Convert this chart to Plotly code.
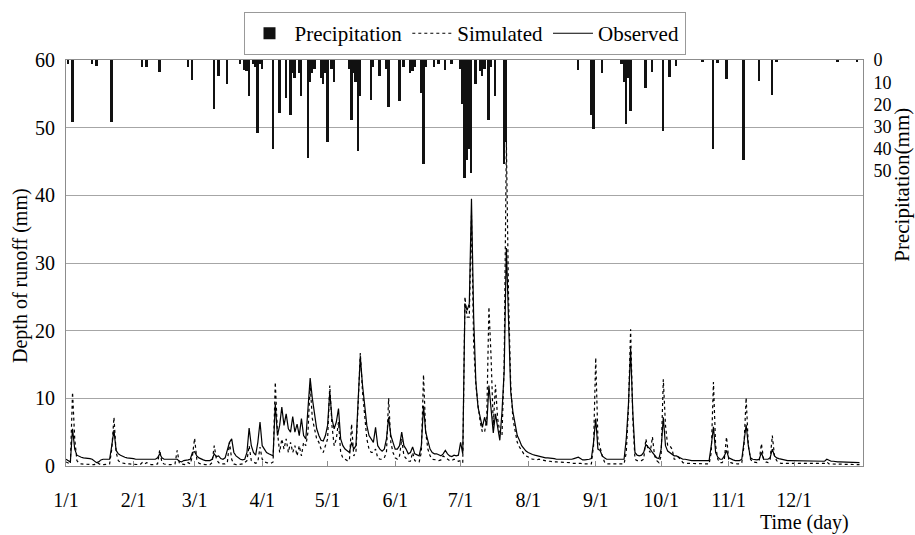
import plotly.graph_objects as go

# ---------------- data ----------------
month_start_day = [0, 31, 59, 90, 120, 151, 181, 212, 243, 273, 304, 334]
month_labels = ["1/1", "2/1", "3/1", "4/1", "5/1", "6/1", "7/1", "8/1", "9/1", "10/1", "11/1", "12/1"]

# daily precipitation (day index from 1 Jan = 0, mm)
rain_day = [1, 3, 12, 14, 21, 35, 37, 43, 56, 58, 68, 70, 74, 80, 82, 83, 84, 86, 87, 88,
            89, 90, 95, 98, 101, 103, 104, 105, 107, 108, 111, 112, 113, 114, 117, 118, 119, 120, 122, 123,
            130, 131, 132, 133, 134, 135, 140, 141, 144, 147, 148, 153, 155, 158, 159, 160, 163, 164, 165, 169,
            171, 174, 177, 181, 182, 183, 184, 185, 186, 188, 190, 191, 192, 194, 195, 197, 201, 202, 235, 241,
            242, 246, 255, 256, 257, 258, 259, 266, 269, 274, 277, 280, 292, 297, 299, 303, 311, 318, 324, 326,
            354, 363]
rain_mm = [2, 28, 2, 2.5, 28, 3, 3, 5.5, 3, 9, 22, 7, 11, 2, 4.5, 5, 16, 2, 3, 33,
           2, 4, 40, 24, 17, 25, 6, 8, 6, 16, 44, 10, 6, 4, 8, 11, 6, 37, 4, 10,
           4, 27, 6, 10, 41, 16, 18, 3, 7, 4, 21, 18.5, 3, 6, 5, 3, 15, 47, 3, 3,
           2, 4.5, 2, 4, 20, 53, 45, 40, 51, 10.7, 5, 7, 4, 27, 3, 16, 47, 37, 4.5, 25,
           31, 5.7, 2, 10, 29, 8, 23, 12.6, 5.4, 32, 7.7, 2.7, 1, 40, 1.5, 8.6, 45, 9.5, 15.8, 1,
           1, 1]

# observed daily runoff depth (mm)
obs_jan = [1.0, 0.8, 0.6, 5.5, 2.5, 1.6, 1.4, 1.3, 1.2, 1.2, 1.1, 1.1, 1.0, 0.8, 0.5, 0.6, 0.9, 1.0, 1.0, 1.0,
           1.0, 3.0, 5.3, 2.3, 1.8, 1.6, 1.4, 1.3, 1.2, 1.2, 1.1]
obs_feb = [1.1, 1.0, 1.0, 1.0, 1.0, 1.1, 1.1, 1.0, 1.0, 1.0, 1.0, 1.2, 1.8, 1.2, 1.0, 1.0, 1.0, 1.0, 1.0, 1.0,
           1.0, 0.7, 0.6, 0.8, 0.8, 0.9, 1.0, 2.0]
obs_mar = [2.1, 1.5, 1.2, 1.0, 0.9, 0.8, 0.8, 0.8, 1.0, 1.8, 1.4, 1.5, 1.1, 1.0, 1.2, 2.5, 3.5, 4.0, 2.0, 1.5,
           1.2, 1.0, 0.9, 1.0, 2.0, 5.6, 3.0, 2.0, 1.6, 3.5, 6.5]
obs_apr = [3.0, 2.5, 2.0, 1.8, 1.6, 1.5, 9.2, 4.5, 6.0, 8.7, 6.0, 7.7, 5.5, 5.0, 7.3, 5.0, 6.2, 4.5, 7.0, 4.5,
           4.0, 8.0, 13.0, 10.0, 7.5, 5.5, 4.5, 3.8, 3.7, 4.5]
obs_may = [6.0, 11.0, 7.0, 5.5, 6.5, 8.5, 4.0, 3.0, 2.5, 2.2, 2.0, 3.5, 2.5, 3.0, 10.0, 16.2, 12.0, 9.0, 6.0, 4.5,
           4.0, 3.5, 5.7, 3.0, 2.5, 2.2, 2.5, 4.0, 7.2, 4.5, 3.5]
obs_jun = [2.5, 2.5, 3.0, 5.0, 3.0, 2.5, 1.8, 2.0, 2.8, 1.8, 1.6, 1.5, 3.0, 8.9, 5.0, 3.5, 2.5, 2.0, 1.8, 1.8,
           1.6, 1.5, 1.8, 2.3, 1.8, 1.5, 1.4, 1.6, 1.5, 1.6]
obs_jul = [3.5, 1.8, 24.0, 23.0, 24.0, 39.5, 22.0, 12.5, 8.7, 7.0, 5.7, 7.2, 6.0, 11.9, 8.5, 4.9, 7.7, 6.0, 3.8, 8.0,
           14.0, 32.2, 22.0, 11.0, 8.0, 6.0, 4.5, 3.8, 3.0, 2.6, 2.2]
obs_aug = [2.0, 1.8, 1.7, 1.6, 1.5, 1.4, 1.3, 1.3, 1.2, 1.2, 1.2, 1.1, 1.1, 1.0, 1.0, 1.0, 1.0, 0.9, 0.9, 1.0,
           1.0, 1.1, 1.2, 1.3, 1.1, 0.9, 0.9, 0.9, 1.0, 1.1, 3.5]
obs_sep = [7.0, 2.5, 2.3, 1.5, 1.2, 1.0, 1.0, 1.0, 1.0, 1.0, 1.0, 1.0, 1.0, 1.0, 4.0, 9.0, 17.3, 8.0, 2.0, 1.6,
           1.5, 1.6, 2.0, 3.2, 2.8, 2.5, 2.0, 1.5, 1.2, 1.1]
obs_oct = [2.5, 7.2, 3.0, 2.2, 2.0, 1.7, 1.5, 1.5, 1.3, 1.1, 1.0, 1.0, 0.9, 0.9, 0.8, 0.8, 0.8, 0.8, 0.8, 0.8,
           0.8, 0.8, 0.8, 3.0, 5.8, 2.0, 1.3, 1.0, 1.0, 1.5, 2.3]
obs_nov = [1.2, 1.0, 0.9, 0.8, 0.8, 0.8, 1.0, 3.5, 6.1, 3.0, 1.2, 1.0, 0.9, 0.9, 1.0, 2.0, 1.0, 1.0, 1.0, 1.2,
           2.5, 1.5, 1.2, 1.1, 1.0, 0.9, 0.9, 0.8, 0.8, 0.8]
obs_dec = [0.8, 0.8, 0.8, 0.8, 0.8, 0.7, 0.7, 0.7, 0.7, 0.7, 0.7, 0.7, 0.7, 0.7, 0.7, 1.0, 0.8, 0.7, 0.7, 0.6,
           0.6, 0.6, 0.6, 0.6, 0.6, 0.5, 0.5, 0.5, 0.5, 0.5, 0.5]

# simulated daily runoff depth (mm)
sim_jan = [0.6, 0.4, 0.3, 10.9, 4.0, 0.8, 0.4, 0.3, 0.3, 0.3, 0.3, 0.3, 0.3, 0.2, 0.5, 0.3, 0.2, 0.2, 0.2, 0.2,
           0.3, 2.5, 7.2, 2.0, 0.8, 0.5, 0.4, 0.4, 0.3, 0.3, 0.3]
sim_feb = [0.3, 0.3, 0.2, 0.2, 0.5, 0.3, 0.5, 0.3, 0.2, 0.2, 0.2, 0.3, 2.4, 0.5, 0.3, 0.2, 0.2, 0.2, 0.2, 0.3,
           2.3, 0.4, 0.3, 0.2, 0.2, 0.5, 0.3, 1.5]
sim_mar = [4.1, 1.0, 0.4, 0.3, 0.2, 0.2, 0.2, 0.2, 0.5, 3.0, 1.0, 0.5, 0.3, 0.3, 0.3, 0.5, 3.5, 1.0, 0.3, 0.2,
           0.2, 0.3, 0.3, 0.5, 0.8, 3.0, 0.8, 0.6, 0.4, 0.6, 2.8]
sim_apr = [1.0, 0.6, 0.5, 0.4, 0.4, 0.6, 12.4, 5.0, 2.0, 4.0, 2.5, 4.0, 2.0, 3.5, 2.0, 3.0, 1.5, 3.0, 1.5, 3.5,
           3.0, 5.0, 12.0, 7.0, 5.5, 4.0, 3.5, 2.5, 2.0, 3.0]
sim_may = [4.0, 11.9, 6.0, 3.0, 4.0, 6.5, 2.0, 1.2, 1.0, 0.8, 0.8, 6.2, 1.5, 2.0, 9.0, 16.7, 11.0, 7.0, 4.0, 2.5,
           2.0, 2.0, 2.5, 1.2, 1.0, 1.0, 1.2, 2.0, 10.0, 3.5, 2.0]
sim_jun = [1.2, 1.0, 1.5, 4.0, 1.5, 1.0, 0.7, 0.7, 2.0, 0.8, 0.6, 0.6, 2.0, 13.5, 5.0, 2.5, 1.5, 1.0, 1.0, 0.9,
           0.8, 0.9, 1.5, 1.3, 1.0, 0.8, 0.8, 1.0, 0.9, 0.7]
sim_jul = [0.8, 0.5, 25.0, 22.0, 22.0, 37.0, 18.0, 12.0, 9.0, 6.5, 5.0, 5.0, 7.0, 23.5, 16.0, 6.0, 12.0, 7.0, 5.0, 4.5,
           15.0, 48.0, 25.0, 12.0, 7.0, 5.0, 3.5, 2.8, 2.2, 1.8, 1.5]
sim_aug = [1.3, 1.1, 1.0, 1.0, 0.9, 1.0, 0.9, 0.8, 0.8, 0.7, 0.7, 0.6, 0.6, 0.6, 0.6, 0.5, 0.5, 0.5, 0.5, 0.5,
           0.4, 0.4, 0.4, 0.5, 0.4, 0.3, 0.3, 0.3, 0.3, 0.3, 3.0]
sim_sep = [16.0, 4.0, 2.5, 1.5, 0.6, 0.3, 0.3, 0.3, 0.3, 0.3, 0.3, 0.3, 0.3, 0.3, 2.0, 8.4, 20.2, 7.0, 1.0, 0.8,
           0.8, 0.8, 1.0, 4.0, 2.5, 2.0, 4.3, 1.5, 0.8, 0.5]
sim_oct = [1.5, 12.8, 6.0, 3.0, 3.0, 2.5, 1.0, 1.0, 1.3, 0.8, 0.5, 0.4, 0.4, 0.3, 0.3, 0.3, 0.3, 0.3, 0.3, 0.3,
           0.3, 0.3, 0.3, 2.0, 12.4, 3.0, 1.0, 0.5, 0.5, 1.0, 4.3]
sim_nov = [1.0, 0.5, 0.4, 0.3, 0.3, 0.3, 0.5, 3.0, 10.1, 3.0, 1.0, 0.6, 0.5, 0.5, 0.8, 3.3, 1.0, 0.6, 0.5, 1.0,
           4.5, 1.5, 0.8, 0.5, 0.4, 0.4, 0.3, 0.3, 0.3, 0.3]
sim_dec = [0.3, 0.3, 0.3, 0.3, 0.3, 0.3, 0.3, 0.3, 0.3, 0.3, 0.3, 0.3, 0.3, 0.3, 0.4, 0.6, 0.3, 0.3, 0.3, 0.3,
           0.3, 0.2, 0.2, 0.2, 0.3, 0.3, 0.2, 0.2, 0.2, 0.2, 0.2]

observed = (obs_jan + obs_feb + obs_mar + obs_apr + obs_may + obs_jun +
            obs_jul + obs_aug + obs_sep + obs_oct + obs_nov + obs_dec)
simulated = (sim_jan + sim_feb + sim_mar + sim_apr + sim_may + sim_jun +
             sim_jul + sim_aug + sim_sep + sim_oct + sim_nov + sim_dec)
days = list(range(len(observed)))

# ---------------- figure ----------------
FONT = "'Liberation Serif', 'DejaVu Serif', serif"
GRID = "#a6a6a6"
AXIS = "#8c8c8c"

fig = go.Figure()
fig.add_trace(go.Bar(x=rain_day, y=rain_mm, name="Precipitation", yaxis="y",
                     width=0.9, marker=dict(color="#111111", line=dict(width=0))))
fig.add_trace(go.Scatter(x=days, y=simulated, name="Simulated", mode="lines", yaxis="y2",
                         line=dict(color="black", width=1.2, dash="dot")))
fig.add_trace(go.Scatter(x=days, y=observed, name="Observed", mode="lines", yaxis="y2",
                         line=dict(color="black", width=1.2)))

fig.update_layout(
    width=915, height=535,
    margin=dict(l=66, r=52, t=58, b=69),
    paper_bgcolor="white", plot_bgcolor="white",
    font=dict(family=FONT, size=20, color="black"),
    showlegend=True,
    legend=dict(orientation="h", x=0.5, xanchor="center", y=1.118, yanchor="top",
                bordercolor="#999999", borderwidth=1, bgcolor="white",
                font=dict(family=FONT, size=21), itemwidth=40, tracegroupgap=0),
    bargap=0,
    xaxis=dict(range=[0, 365.6], tickmode="array", tickvals=month_start_day, ticktext=month_labels,
               ticks="inside", ticklen=5, tickcolor=AXIS, showgrid=False, zeroline=False,
               showline=True, linecolor=AXIS, linewidth=1, mirror=True,
               ticklabelstandoff=16, tickfont=dict(family=FONT, size=20)),
    yaxis=dict(side="right", range=[183, 0], tickmode="array", tickvals=[0, 10, 20, 30, 40, 50],
               showgrid=False, zeroline=False, showline=True, linecolor=AXIS, linewidth=1,
               ticks="", ticklabelstandoff=6, tickfont=dict(family=FONT, size=18)),
    yaxis2=dict(overlaying="y", side="left", range=[0, 60], dtick=10, showgrid=True,
                gridcolor=GRID, gridwidth=1, zeroline=False, showline=True, linecolor=AXIS,
                linewidth=1, ticks="", ticklabelstandoff=6, tickfont=dict(family=FONT, size=20)),
    annotations=[
        dict(text="Depth of runoff (mm)", xref="paper", yref="paper", x=-0.058, y=0.47,
             textangle=-90, showarrow=False, font=dict(family=FONT, size=20),
             xanchor="center", yanchor="middle"),
        dict(text="Precipitation(mm)", xref="paper", yref="paper", x=1.049, y=0.693,
             textangle=-90, showarrow=False, font=dict(family=FONT, size=21),
             xanchor="center", yanchor="middle"),
        dict(text="Time (day)", xref="paper", yref="paper", x=0.927, y=-0.14,
             showarrow=False, font=dict(family=FONT, size=20),
             xanchor="center", yanchor="middle"),
    ],
)

fig.write_html("out.html")
